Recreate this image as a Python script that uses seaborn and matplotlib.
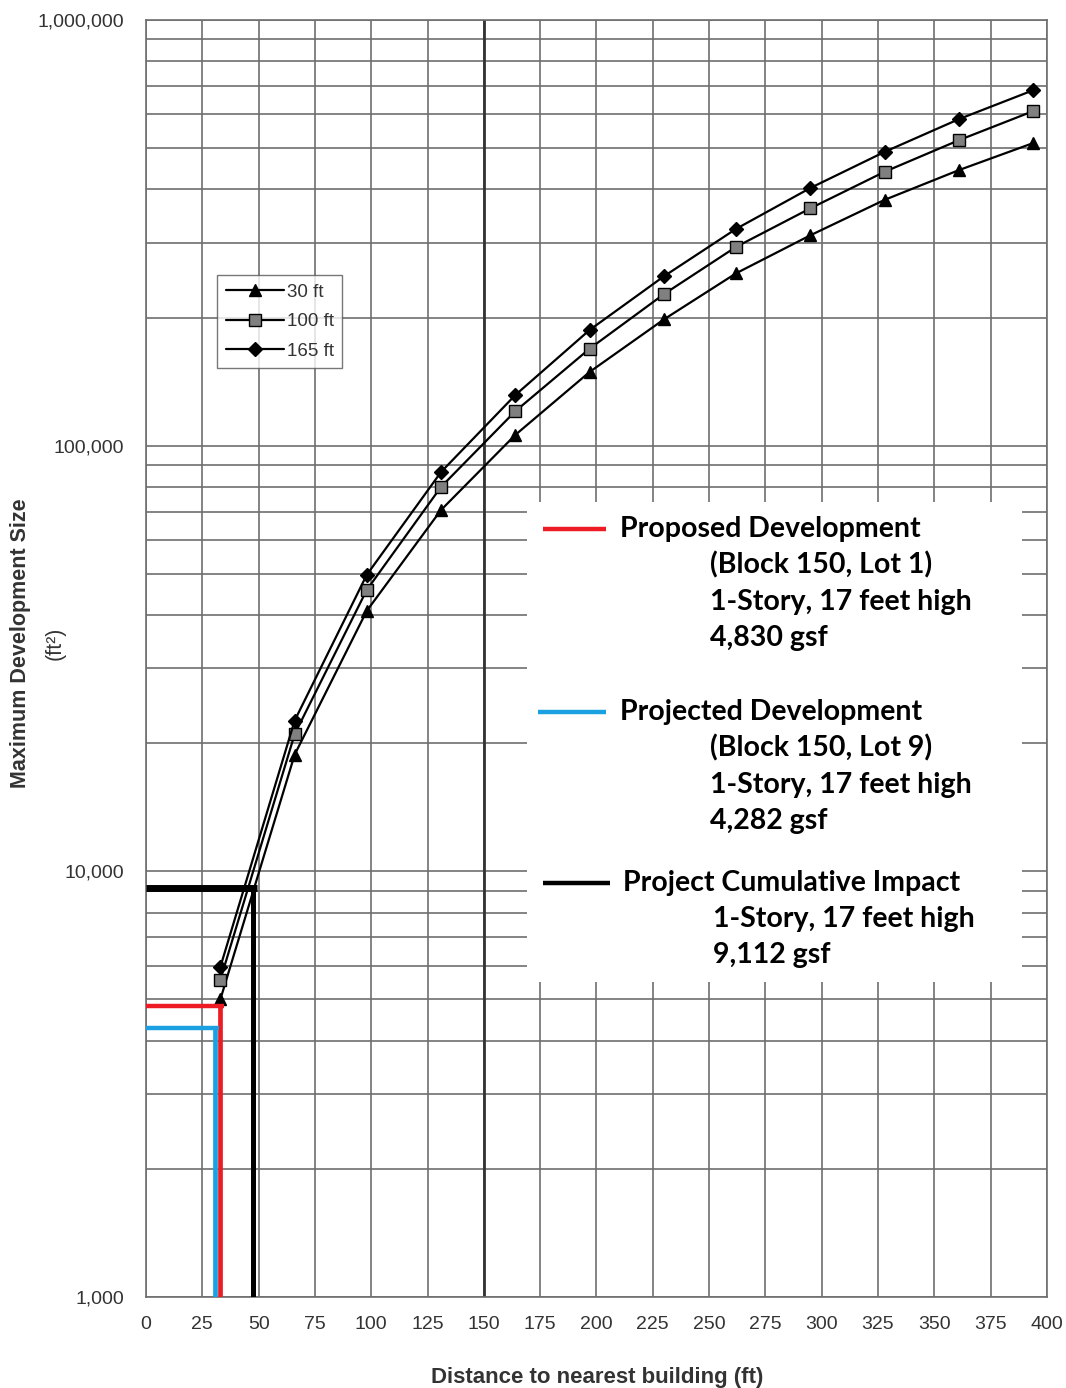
import matplotlib
matplotlib.use('Agg')
import matplotlib.pyplot as plt
import matplotlib.ticker as mticker
from matplotlib.patches import Rectangle
import seaborn as sns
import pandas as pd

# dados
distancia = [33, 66, 98, 131, 164, 197, 230, 262, 295, 328, 361, 394]
alt_30 = [5000, 18800, 40900, 70600, 106000, 149000, 198000, 254000, 312000, 378000, 444000, 514000]
alt_100 = [5560, 21000, 45800, 80000, 120500, 169000, 227000, 293000, 361000, 440000, 522000, 611000]
alt_165 = [5960, 22600, 49700, 86700, 131500, 187000, 250000, 323000, 403000, 490000, 585000, 684000]
series_labels = ['30 ft', '100 ft', '165 ft']

# empreendimentos (distância, área)
dev_names = ['Proposed', 'Projected', 'Cumulative']
dev_dist = [33, 30.8, 47.6]
dev_area = [4830, 4282, 9112]
dev_colors = ['#ed1c24', '#1ba1e2', '#000000']

x_ticks = list(range(0, 401, 25))

sns.set_style('white')
plt.rcParams['font.family'] = ['Liberation Sans', 'DejaVu Sans']

fig = plt.figure(figsize=(10.66, 13.88), dpi=100)
ax = fig.add_axes([0.137, 0.0656, 0.845, 0.92])

# linhas das séries
estilos = [('^', 'black', 8), ('s', '#808080', 9), ('D', 'black', 7)]
for vals, lab, (mk, fc, ms) in zip([alt_30, alt_100, alt_165], series_labels, estilos):
    df = pd.DataFrame({'dist': distancia, 'area': vals})
    sns.lineplot(data=df, x='dist', y='area', ax=ax, color='black', lw=1.6,
                 marker=mk, markerfacecolor=fc, markeredgecolor='black',
                 markersize=ms, markeredgewidth=1, label=lab, zorder=4)

ax.set_yscale('log')
ax.set_xlim(0, 400)
ax.set_ylim(1000, 1000000)
ax.set_xticks(x_ticks)
ax.yaxis.set_major_locator(mticker.LogLocator(base=10, numticks=10))
ax.yaxis.set_minor_locator(mticker.LogLocator(base=10, subs=range(2, 10), numticks=20))
ax.yaxis.set_major_formatter(mticker.FuncFormatter(lambda v, p: f'{v:,.0f}'))
ax.yaxis.set_minor_formatter(mticker.NullFormatter())

ax.set_axisbelow(True)
ax.grid(which='major', axis='both', color='#6e6e6e', lw=1.2)
ax.grid(which='minor', axis='y', color='#6e6e6e', lw=1.2)
ax.axvline(150, color='#333333', lw=2.0, zorder=0.6)
for s in ax.spines.values():
    s.set_color('#6e6e6e')
    s.set_linewidth(1.2)

ax.tick_params(axis='both', which='both', direction='out', length=5, width=1,
               color='#6e6e6e', labelsize=14, labelcolor='#333333')
ax.tick_params(axis='y', which='both', pad=11)
ax.tick_params(axis='x', which='both', pad=9)
ax.tick_params(axis='x', which='minor', length=0)
ax.set_xlabel('')
ax.set_ylabel('')

# caixa branca de anotação
ax.add_patch(Rectangle((0.423, 0.2467), 0.549, 0.3758, transform=ax.transAxes,
                       facecolor='white', edgecolor='none', zorder=1))

# linhas coloridas dos empreendimentos
lws = [3.2, 3.2, 5]
for d, a, c, lw in zip(dev_dist, dev_area, dev_colors, lws):
    ax.plot([0, d + 1.5], [a, a], color=c, lw=lw, solid_capstyle='butt', zorder=5)
    ax.plot([d, d], [1000, a], color=c, lw=3.4 if c != '#000000' else 3.6,
            solid_capstyle='butt', zorder=5)

# texto da caixa
fonte = dict(family=['Lato', 'DejaVu Sans'], fontweight='bold', fontsize=20.5,
             color='black', va='center', transform=ax.transAxes, zorder=6)
blocos = [
    ('#ed1c24', 0.4406, 0.5105, 0.6014, 0.526,
     ['Proposed Development', '(Block 150, Lot 1)', '1-Story, 17 feet high', '4,830 gsf'], 0.626),
    ('#1ba1e2', 0.435, 0.5105, 0.4581, 0.526,
     ['Projected Development', '(Block 150, Lot 9)', '1-Story, 17 feet high', '4,282 gsf'], 0.626),
    ('#000000', 0.4406, 0.515, 0.3245, 0.529,
     ['Project Cumulative Impact', '1-Story, 17 feet high', '9,112 gsf'], 0.629),
]
for cor, x0, x1, y0, tx, linhas, tx2 in blocos:
    ax.plot([x0, x1], [y0, y0], color=cor, lw=3.2, transform=ax.transAxes,
            solid_capstyle='butt', zorder=6)
    ax.text(tx, y0, linhas[0], **fonte)
    for i, l in enumerate(linhas[1:]):
        ax.text(tx2, y0 - 0.0284 * (i + 1), l, **fonte)

# legenda
leg = ax.legend(loc='upper left', bbox_to_anchor=(0.079, 0.800), frameon=True,
                fancybox=False, edgecolor='#555555', fontsize=13.5,
                handlelength=3.1, handletextpad=0.15, labelspacing=0.65,
                borderpad=0.45, borderaxespad=0)
leg.get_frame().set_linewidth(1)
for t in leg.get_texts():
    t.set_color('#333333')

# rótulos dos eixos
fig.text(0.0188, 0.5367, 'Maximum Development Size', rotation=90, ha='center',
         va='center', fontsize=15.5, fontweight='bold', color='#333333')
fig.text(0.0516, 0.5367, '(ft²)', rotation=90, ha='center', va='center',
         fontsize=15.5, color='#333333')
fig.text(0.56, 0.0075, 'Distance to nearest building (ft)', ha='center',
         va='center', fontsize=16, fontweight='bold', color='#333333')

fig.savefig('out.png', dpi=100)
